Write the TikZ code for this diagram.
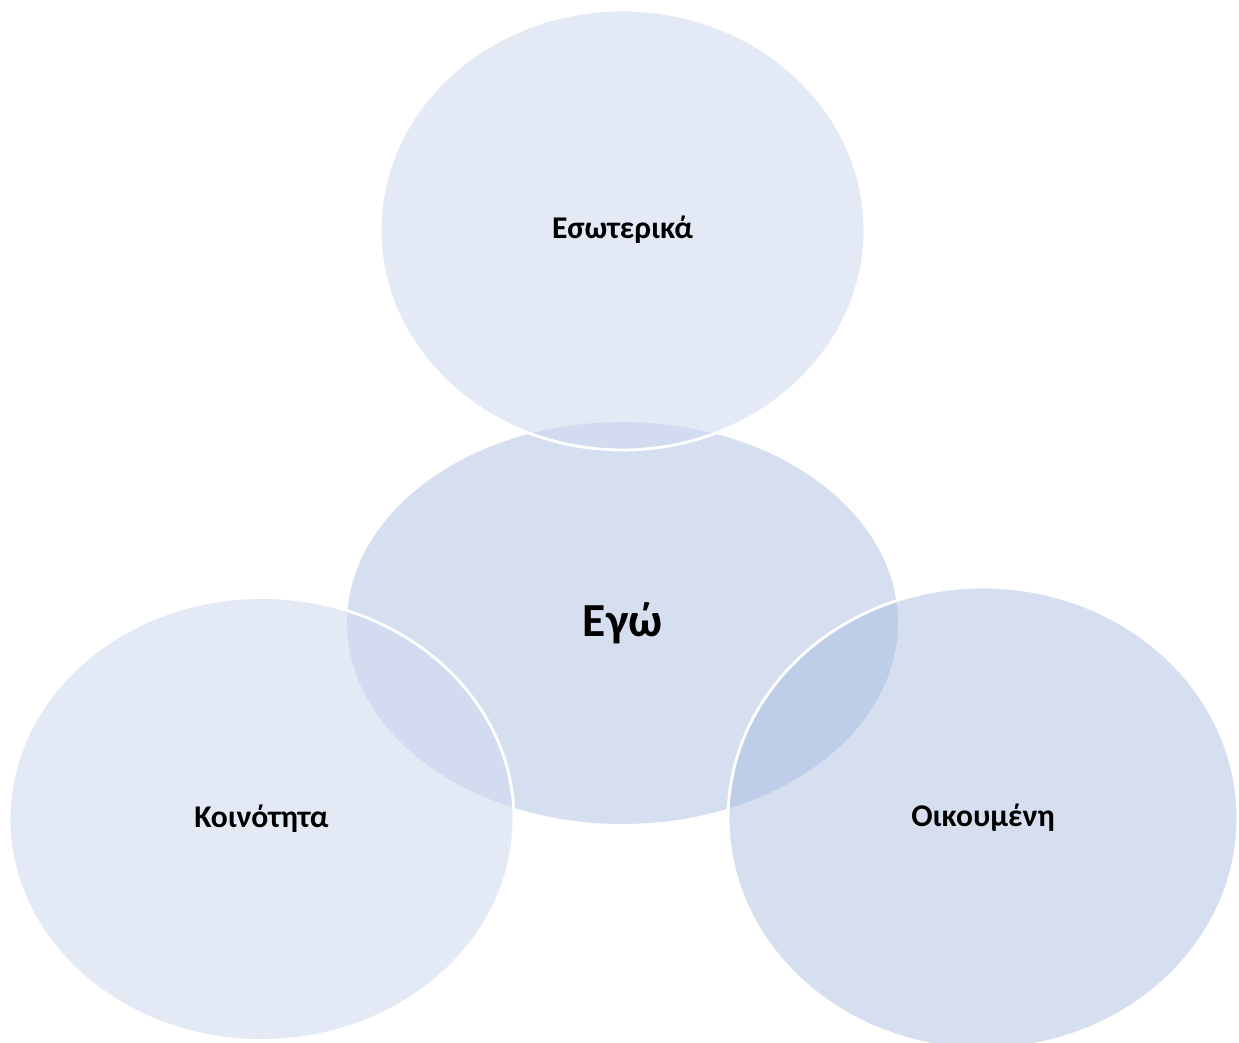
\documentclass[tikz,border=0pt]{standalone}
\usepackage{fontspec}
\setmainfont{Carlito}
\usepackage{tikz}
\usetikzlibrary{shapes.geometric}
\definecolor{corefill}{RGB}{214,223,240}
\definecolor{paleblue}{RGB}{207,216,239}
\definecolor{deepblue}{RGB}{166,186,223}
\tikzset{
    bubble/.style={ellipse, inner sep=0pt, text opacity=1, text=black,
        font=\bfseries\fontsize{18}{22}\selectfont},
    core/.style={bubble, fill=corefill, draw=none,
        font=\bfseries\fontsize{27}{32}\selectfont},
    palebubble/.style={bubble, draw=white, line width=1.6pt, fill=paleblue, fill opacity=0.56},
    deepbubble/.style={bubble, draw=white, line width=1.6pt, fill=deepblue, fill opacity=0.46}
}
\begin{document}
\begin{tikzpicture}[x=0.02cm, y=-0.02cm]
    \useasboundingbox (0,0) rectangle (1239,1043);
    % centre first, the others lie over it
    \node[core, minimum width=11.02cm, minimum height=8.04cm] (ego) at (622.5,623) {Εγώ};
    \node[palebubble, minimum width=9.7cm, minimum height=8.8cm] (inner) at (622.5,230) {Εσωτερικά};
    \node[palebubble, minimum width=10.1cm, minimum height=8.86cm] (community) at (261.5,819) {Κοινότητα};
    \node[deepbubble, minimum width=10.2cm, minimum height=9.24cm] (world) at (983,818) {Οικουμένη};
\end{tikzpicture}
\end{document}
